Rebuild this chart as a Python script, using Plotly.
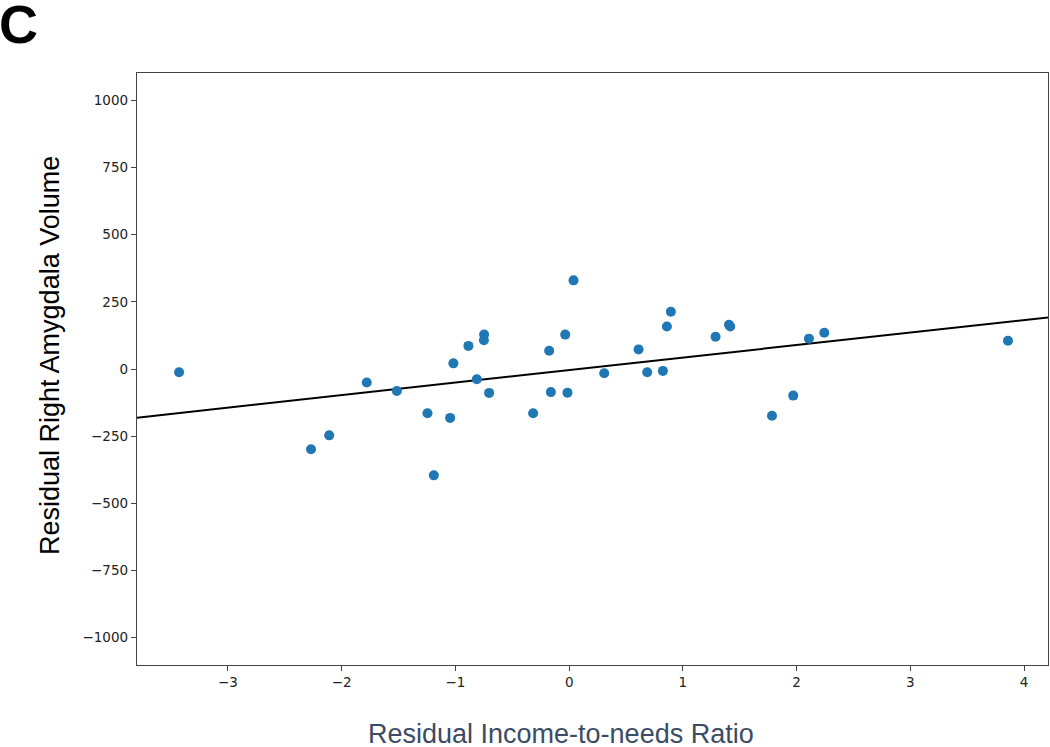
import numpy as np
import plotly.graph_objects as go

income_ratio = [-3.43, -2.27, -2.11, -1.78, -1.515, -1.246, -1.19, -1.047, -1.018, -0.886,
                -0.812, -0.748, -0.75, -0.704, -0.317, -0.176, -0.161, -0.035, -0.015, 0.038,
                0.308, 0.61, 0.686, 0.824, 0.859, 0.894, 1.287, 1.405, 1.416, 1.783,
                1.970, 2.108, 2.243, 3.858]
amygdala_vol = [-12, -299, -247, -50, -82, -165, -396, -182, 21, 86,
                -38, 128, 107, -89, -165, 68, -86, 128, -88, 330,
                -16, 73, -12, -7, 158, 213, 120, 165, 158, -174,
                -99, 113, 135, 105]

fit_slope = 46.6
fit_intercept = -4.0
x_range = [-3.8, 4.21]
y_range = [-1102, 1102]
x_ticks = [-3, -2, -1, 0, 1, 2, 3, 4]
y_ticks = [-1000, -750, -500, -250, 0, 250, 500, 750, 1000]

line_x = np.array(x_range)
line_y = fit_slope * line_x + fit_intercept

fig = go.Figure()
fig.add_trace(go.Scatter(x=line_x, y=line_y, mode="lines",
                         line=dict(color="black", width=2), showlegend=False))
fig.add_trace(go.Scatter(x=income_ratio, y=amygdala_vol, mode="markers",
                         marker=dict(color="#1f77b4", size=10), showlegend=False))

axis_common = dict(showline=True, mirror=True, linecolor="#444", linewidth=1.3,
                   ticks="outside", ticklen=5, tickcolor="#444", tickwidth=1.2,
                   showgrid=False, zeroline=False,
                   tickfont=dict(family="DejaVu Sans", size=13.5, color="#222"))

W, H = 1050, 747
L, R, T, B = 137, 2, 73, 82
fig.update_layout(
    width=W, height=H,
    margin=dict(l=L, r=R, t=T, b=B),
    paper_bgcolor="white", plot_bgcolor="white",
    xaxis=dict(range=x_range, tickvals=x_ticks, **axis_common),
    yaxis=dict(range=y_range, tickvals=y_ticks, **axis_common),
)

pw, ph = W - L - R, H - T - B
def px(xp):
    return (xp - L) / pw
def py(yp):
    return (H - B - yp) / ph

fig.add_annotation(text="<b>C</b>", x=px(18.5), y=py(24), xref="paper", yref="paper",
                   showarrow=False, xanchor="center", yanchor="middle",
                   font=dict(family="Liberation Sans", size=54, color="black"))
fig.add_annotation(text="Residual Right Amygdala Volume", x=px(50), y=py(356),
                   xref="paper", yref="paper", showarrow=False, textangle=-90,
                   xanchor="center", yanchor="middle",
                   font=dict(family="Liberation Sans", size=27, color="black"))
fig.add_annotation(text="Residual Income-to-needs Ratio", x=px(561), y=py(734),
                   xref="paper", yref="paper", showarrow=False,
                   xanchor="center", yanchor="middle",
                   font=dict(family="Liberation Sans", size=27, color="#3c4b66"))

fig.write_html("out.html", config={"displayModeBar": False},
               post_script="document.body.style.margin='0';")
